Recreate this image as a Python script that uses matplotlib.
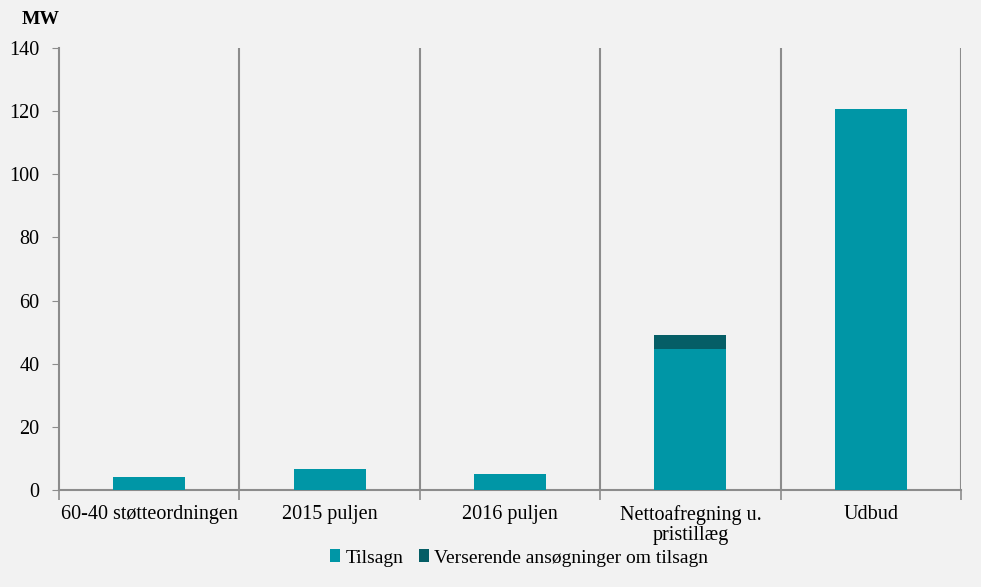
import matplotlib
matplotlib.use("Agg")
import matplotlib.pyplot as plt
import numpy as np

categories = ["60-40 støtteordningen", "2015 puljen", "2016 puljen", "Nettoafregning u.\npristillæg", "Udbud"]
tilsagn = [4.1, 6.6, 5.1, 44.7, 120.7]
verserende = [0, 0, 0, 4.4, 0]
yticks = [0, 20, 40, 60, 80, 100, 120, 140]

plt.rcParams['font.family'] = ['Liberation Serif', 'DejaVu Serif']
bg = "#f2f2f2"
c1 = "#0096a6"
c2 = "#055e66"

fig = plt.figure(figsize=(9.81, 5.87), dpi=100, facecolor=bg)
ax = fig.add_axes([59/981, 1-490/587, (961-59)/981, (490-48)/587], facecolor=bg)

x = np.arange(len(categories))
ax.bar(x, tilsagn, width=0.4, color=c1, label="Tilsagn", zorder=3)
ax.bar(x, verserende, width=0.4, bottom=tilsagn, color=c2, label="Verserende ansøgninger om tilsagn", zorder=3)

ax.set_xlim(-0.5, len(categories)-0.5)
ax.set_ylim(0, 140)
ax.set_yticks(yticks)
ax.tick_params(axis='y', length=5, color="#8c8c8c", labelsize=14.5, pad=9)
ax.set_xticks(x)
ax.set_xticklabels(categories, fontsize=14.5, linespacing=1.05)
ax.tick_params(axis='x', length=0, pad=11)
ax.set_xticks(np.arange(len(categories)+1)-0.5, minor=True)
ax.tick_params(axis='x', which='minor', length=7, color="#8c8c8c", width=1.2)
for b in np.arange(1, len(categories)+1)-0.5:
    ax.axvline(b, color="#8c8c8c", lw=1.5, zorder=2)

for s in ['top', 'right']:
    ax.spines[s].set_visible(False)
ax.spines['left'].set_color("#8c8c8c")
ax.spines['left'].set_linewidth(1.5)
ax.spines['bottom'].set_color("#8c8c8c")
ax.spines['bottom'].set_linewidth(1.5)

fig.text(41/981, 1-19/587, "MW", fontsize=14, fontweight='bold', ha='center', va='center')

leg = fig.legend(loc='center', bbox_to_anchor=(519/981, 1-558/587), ncol=2, frameon=False,
                 fontsize=14, handlelength=0.55, handleheight=0.6, handletextpad=0.25, columnspacing=0.8)

fig.savefig("out.png", dpi=100, facecolor=bg)
